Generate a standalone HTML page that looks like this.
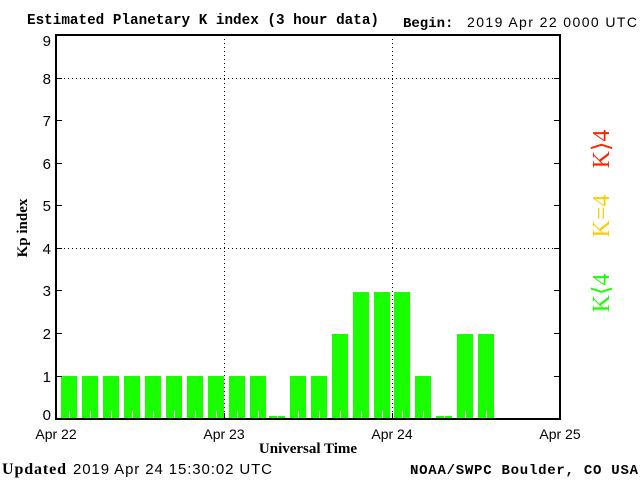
<!DOCTYPE html>
<html><head><style>
body{margin:0;background:#fff;width:640px;height:480px;overflow:hidden}
</style></head><body>
<svg width="640" height="480" xmlns="http://www.w3.org/2000/svg" font-family="Liberation Sans, sans-serif">
<rect width="640" height="480" fill="#fff"/>
<text x="27" y="24" font-family="Liberation Mono, monospace" font-weight="bold" font-size="14.3" textLength="352">Estimated Planetary K index (3 hour data)</text>
<text x="403" y="27" font-family="Liberation Mono, monospace" font-weight="bold" font-size="14">Begin:</text>
<text x="467" y="27" font-size="14" textLength="170">2019 Apr 22 0000 UTC</text>
<g fill="#1aff00">
<rect x="61" y="376" width="16" height="43"/><rect x="82" y="376" width="16" height="43"/>
<rect x="103" y="376" width="16" height="43"/><rect x="124" y="376" width="16" height="43"/>
<rect x="145" y="376" width="16" height="43"/><rect x="166" y="376" width="16" height="43"/>
<rect x="187" y="376" width="16" height="43"/><rect x="208" y="376" width="16" height="43"/>
<rect x="229" y="376" width="16" height="43"/><rect x="250" y="376" width="16" height="43"/>
<rect x="269" y="416" width="16" height="3"/>
<rect x="290" y="376" width="16" height="43"/><rect x="311" y="376" width="16" height="43"/>
<rect x="332" y="334" width="16" height="85"/>
<rect x="353" y="292" width="16" height="127"/><rect x="374" y="292" width="16" height="127"/><rect x="394" y="292" width="16" height="127"/>
<rect x="415" y="376" width="16" height="43"/>
<rect x="436" y="416" width="16" height="3"/>
<rect x="457" y="334" width="16" height="85"/><rect x="478" y="334" width="16" height="85"/>
</g>
<g stroke="#fff" stroke-width="1">
<path d="M69.5 411V419M90.5 411V419M111.5 411V419M132.5 411V419M153.5 411V419M174.5 411V419M195.5 411V419M216.5 411V419M237.5 411V419M258.5 411V419M298.5 411V419M319.5 411V419M340.5 411V419M361.5 411V419M382.5 411V419M402.5 411V419M423.5 411V419M465.5 411V419M486.5 411V419M277.5 415V419M444.5 415V419"/>
</g>
<g stroke="#000" stroke-width="1" stroke-dasharray="1,3" fill="none">
<path d="M56 78.5H560M56 248.5H560M224.5 35V419M392.5 35V419"/>
</g>
<g stroke="#000" stroke-width="2" fill="none">
<rect x="56" y="35" width="504" height="384"/>
</g>
<g stroke="#000" stroke-width="1">
<path d="M56 78.5h6M56 120.5h6M56 163.5h6M56 205.5h6M56 248.5h6M56 290.5h6M56 333.5h6M56 376.5h6"/>
<path d="M560 78.5h-6M560 120.5h-6M560 163.5h-6M560 205.5h-6M560 248.5h-6M560 290.5h-6M560 333.5h-6M560 376.5h-6"/>
<path d="M224.5 419v-6M392.5 419v-6"/>
</g>
<g font-size="15" text-anchor="end">
<text x="51" y="46">9</text><text x="51" y="84">8</text><text x="51" y="126">7</text>
<text x="51" y="169">6</text><text x="51" y="211">5</text><text x="51" y="254">4</text>
<text x="51" y="296">3</text><text x="51" y="339">2</text><text x="51" y="382">1</text><text x="51" y="420">0</text>
</g>
<g font-size="14" text-anchor="middle">
<text x="56" y="439">Apr 22</text><text x="224" y="439">Apr 23</text>
<text x="392" y="439">Apr 24</text><text x="560" y="439">Apr 25</text>
</g>
<text x="308" y="453" text-anchor="middle" font-family="Liberation Serif, serif" font-weight="bold" font-size="15">Universal Time</text>
<text transform="translate(27,228) rotate(-90)" text-anchor="middle" font-family="Liberation Serif, serif" font-weight="bold" font-size="15">Kp index</text>
<text x="2" y="474" font-family="Liberation Serif, serif" font-weight="bold" font-size="16" textLength="64">Updated</text>
<text x="73" y="474" font-size="15" textLength="199">2019 Apr 24 15:30:02 UTC</text>
<text x="410" y="474" font-family="Liberation Mono, monospace" font-weight="bold" font-size="14" textLength="228">NOAA/SWPC Boulder, CO USA</text>
<g font-family="Liberation Serif, serif" font-size="24" text-anchor="middle">
<text transform="translate(609,149) rotate(-90)" fill="#ff2200">K⟩4</text>
<text transform="translate(609,216) rotate(-90)" fill="#ffcc00">K=4</text>
<text transform="translate(609,293) rotate(-90)" fill="#1aff00">K⟨4</text>
</g>
</svg>
</body></html>
